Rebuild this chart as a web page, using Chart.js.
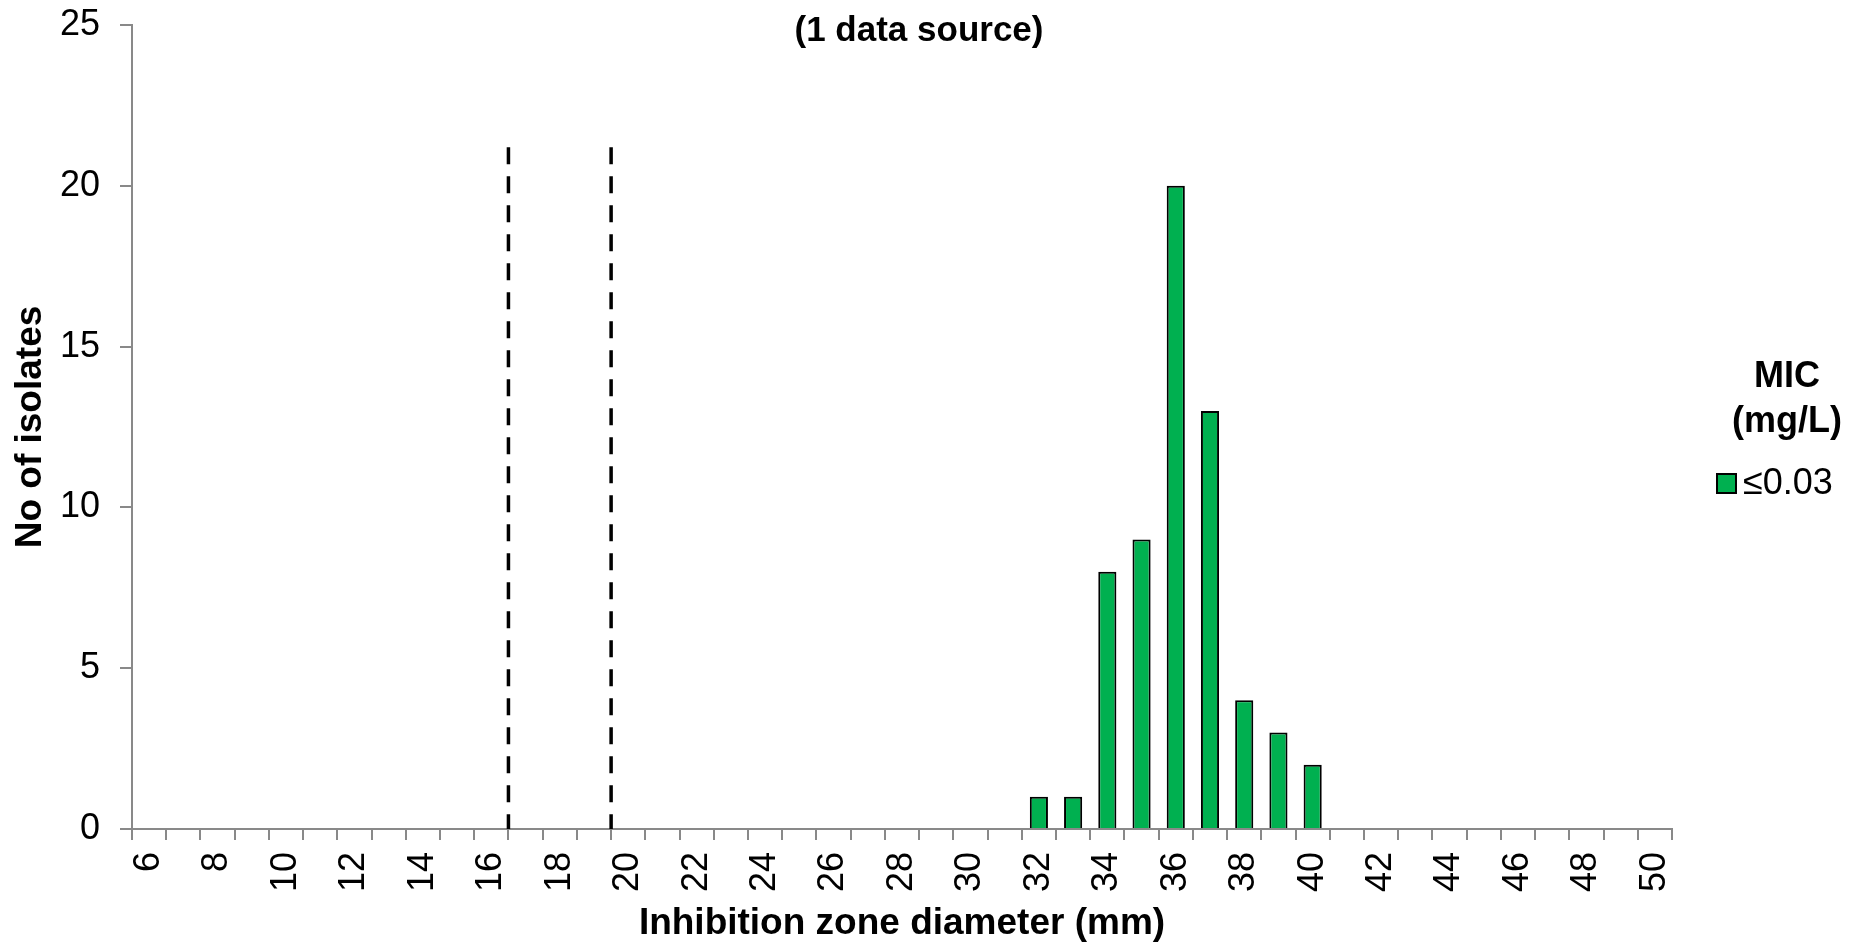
<!DOCTYPE html>
<html>
<head>
<meta charset="utf-8">
<title>Inhibition zone diameter distribution</title>
<script src="https://cdn.jsdelivr.net/npm/chart.js@4.4.1/dist/chart.umd.min.js"></script>
<style>
  html, body { margin: 0; padding: 0; background: #ffffff; }
  #wrap { position: relative; width: 1852px; height: 944px; }
</style>
</head>
<body>
<div id="wrap"><canvas id="chart"></canvas></div>
<script>
// Zone diameters (mm), one category per millimetre
const diameters = [6, 7, 8, 9, 10, 11, 12, 13, 14, 15, 16, 17, 18, 19, 20, 21, 22, 23, 24, 25, 26, 27, 28,
  29, 30, 31, 32, 33, 34, 35, 36, 37, 38, 39, 40, 41, 42, 43, 44, 45, 46, 47, 48, 49, 50];

// Number of isolates at each diameter (MIC ≤0.03 mg/L)
const isolates = [0, 0, 0, 0, 0, 0, 0, 0, 0, 0, 0, 0, 0, 0, 0, 0, 0, 0, 0, 0, 0, 0, 0,
  0, 0, 0, 1, 1, 8, 9, 20, 13, 4, 3, 2, 0, 0, 0, 0, 0, 0, 0, 0, 0, 0];

// Breakpoint markers (mm, between categories) and how high they reach
const breakpoints = [16.5, 19.5];
const breakpointTop = 21.2;

const yTicks = [0, 5, 10, 15, 20, 25];

const seriesLabel = '≤0.03';
const legendTitle = ['MIC', '(mg/L)'];
const chartTitle = '(1 data source)';

const FONT = "'Liberation Sans', Arial, Helvetica, sans-serif";
const GREEN = '#00B050';
const AXIS_GREY = '#898989';

// x pixel for a diameter value that may sit between two categories
function diameterToPixel(xScale, mm) {
  const lo = Math.floor(mm), hi = Math.ceil(mm);
  const iLo = diameters.indexOf(lo), iHi = diameters.indexOf(hi);
  const pLo = xScale.getPixelForValue(iLo);
  const pHi = xScale.getPixelForValue(iHi);
  return pLo + (pHi - pLo) * (mm - lo);
}

const breakpointPlugin = {
  id: 'breakpointLines',
  afterDatasetsDraw(chart) {
    const { ctx, scales: { x, y } } = chart;
    ctx.save();
    ctx.strokeStyle = '#000000';
    ctx.lineWidth = 3.5;
    ctx.setLineDash([17, 12]);
    breakpoints.forEach(mm => {
      const px = diameterToPixel(x, mm);
      ctx.beginPath();
      ctx.moveTo(px, y.getPixelForValue(breakpointTop));
      ctx.lineTo(px, y.getPixelForValue(0));
      ctx.stroke();
    });
    ctx.restore();
  }
};

const headerPlugin = {
  id: 'headerText',
  afterDraw(chart) {
    const { ctx } = chart;
    ctx.save();
    ctx.fillStyle = '#000000';
    ctx.textAlign = 'center';
    ctx.textBaseline = 'middle';
    ctx.font = 'bold 35px ' + FONT;
    ctx.fillText(chartTitle, chart.width / 2 - 7, 31);
    ctx.restore();
  }
};

const sideLegendPlugin = {
  id: 'sideLegend',
  afterDraw(chart) {
    const { ctx, chartArea } = chart;
    const ds = chart.data.datasets[0];
    const cx = chartArea.right + 115;
    ctx.save();
    ctx.fillStyle = '#000000';
    ctx.textAlign = 'center';
    ctx.textBaseline = 'middle';
    ctx.font = 'bold 36px ' + FONT;
    legendTitle.forEach((line, i) => ctx.fillText(line, cx, 377 + i * 45));
    // series swatch
    const bx = chartArea.right + 45, by = 474, bs = 19;
    ctx.fillStyle = ds.backgroundColor;
    ctx.fillRect(bx, by, bs, bs);
    ctx.strokeStyle = ds.borderColor;
    ctx.lineWidth = 2;
    ctx.strokeRect(bx, by, bs, bs);
    ctx.fillStyle = '#000000';
    ctx.textAlign = 'left';
    ctx.font = '36px ' + FONT;
    ctx.fillText(ds.label, bx + bs + 7, by + bs / 2 + 1);
    ctx.restore();
  }
};

new Chart(document.getElementById('chart'), {
  type: 'bar',
  data: {
    labels: diameters.map(String),
    datasets: [{
      label: seriesLabel,
      data: isolates,
      backgroundColor: GREEN,
      borderColor: '#000000',
      borderWidth: 2,
      categoryPercentage: 1.0,
      barPercentage: 0.53
    }]
  },
  options: {
    responsive: true,
    maintainAspectRatio: false,
    animation: false,
    layout: { padding: { top: 25, right: 180, left: 0, bottom: 0 } },
    plugins: {
      legend: { display: false },
      title: { display: false },
      tooltip: { enabled: false }
    },
    scales: {
      x: {
        type: 'category',
        offset: true,
        afterFit(scale) {
          scale.height = 115;
          scale.paddingLeft = 0;
          scale.paddingRight = 0;
        },
        border: { display: true, color: AXIS_GREY, width: 2 },
        grid: {
          offset: true,
          drawOnChartArea: false,
          drawTicks: true,
          tickLength: 11,
          color: AXIS_GREY,
          lineWidth: 2
        },
        ticks: {
          autoSkip: false,
          maxRotation: 90,
          minRotation: 90,
          padding: 12,
          color: '#000000',
          font: { family: FONT, size: 36 },
          callback(value, index) {
            const d = diameters[index];
            return d % 2 === 0 ? String(d) : '';
          }
        },
        title: {
          display: true,
          text: 'Inhibition zone diameter (mm)',
          color: '#000000',
          font: { family: FONT, size: 37, weight: 'bold', lineHeight: 1 },
          padding: { top: 0, bottom: 2 }
        }
      },
      y: {
        min: 0,
        max: 25,
        afterFit(scale) {
          scale.width = 132;
          scale.paddingTop = 0;
          scale.paddingBottom = 0;
        },
        afterBuildTicks(scale) { scale.ticks = yTicks.map(v => ({ value: v })); },
        border: { display: true, color: AXIS_GREY, width: 2 },
        grid: {
          drawOnChartArea: false,
          drawTicks: true,
          tickLength: 12,
          color: AXIS_GREY,
          lineWidth: 2
        },
        ticks: {
          padding: 20,
          color: '#000000',
          font: { family: FONT, size: 36 }
        },
        title: {
          display: true,
          text: 'No of isolates',
          color: '#000000',
          font: { family: FONT, size: 37, weight: 'bold', lineHeight: 1 },
          padding: { top: 12, bottom: 0 }
        }
      }
    }
  },
  plugins: [breakpointPlugin, headerPlugin, sideLegendPlugin]
});
</script>
</body>
</html>
